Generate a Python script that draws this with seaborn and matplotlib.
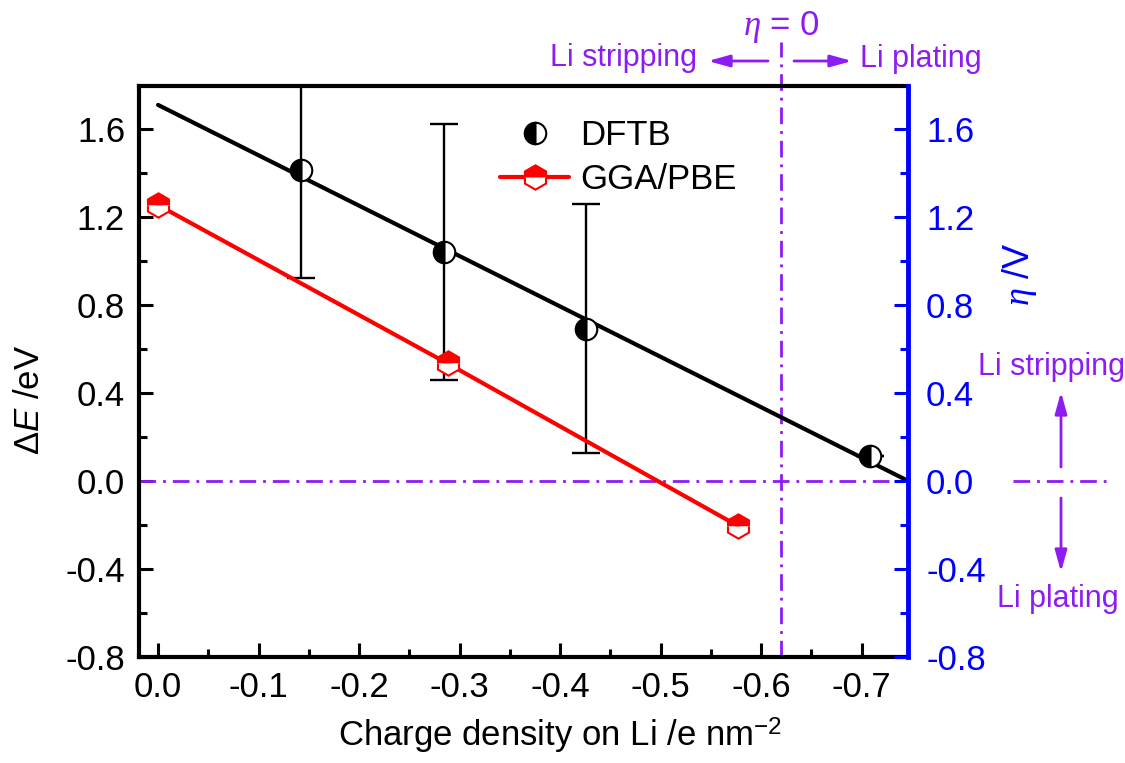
import matplotlib
matplotlib.use("Agg")
import matplotlib.pyplot as plt
from matplotlib.ticker import FixedLocator, MultipleLocator, FormatStrFormatter
import seaborn as sns

# ---------------- data ----------------
dftb_charge = [-0.142, -0.284, -0.426, -0.708]
dftb_dE = [1.41, 1.04, 0.69, 0.115]
dftb_err = [0.49, 0.58, 0.565, 0.0]
fit_charge = [0.0, -0.746]
fit_dE = [1.707, 0.0]
gga_charge = [0.0, -0.288, -0.577]
gga_dE = [1.252, 0.533, -0.205]
eta_zero_charge = -0.62
eta_zero_level = 0.0
series_names = ["DFTB", "GGA/PBE"]
x_ticks = [0.0, -0.1, -0.2, -0.3, -0.4, -0.5, -0.6, -0.7]
y_ticks = [-0.8, -0.4, 0.0, 0.4, 0.8, 1.2, 1.6]
x_limits = (0.019, -0.746)
y_limits = (-0.8, 1.793)

PURPLE = "#8C1CF2"
BLUE = "#0000FF"
RED = "#FF0000"
DASHDOT = (0, (6, 2.5, 1, 2.5))

sns.set_theme(style="white")
plt.rcParams["font.family"] = ["Liberation Sans", "DejaVu Sans"]
plt.rcParams["mathtext.fontset"] = "custom"
plt.rcParams["mathtext.rm"] = "Liberation Sans"
plt.rcParams["mathtext.it"] = "Liberation Serif:italic"
plt.rcParams["mathtext.sf"] = "Liberation Sans:italic"
plt.rcParams["axes.unicode_minus"] = False
plt.rcParams["text.color"] = "black"
plt.rcParams["axes.labelcolor"] = "black"

W, H = 1125, 763
L, R, T, B = 139, 908, 86, 657
fig = plt.figure(figsize=(W / 100, H / 100), dpi=100, facecolor="white")
ax = fig.add_axes([L / W, 1 - B / H, (R - L) / W, (B - T) / H])
ax.set_facecolor("white")


def px(x, y):
    return (x / W, 1 - y / H)


# reference lines (eta = 0)
ax.axhline(eta_zero_level, color=PURPLE, lw=2, ls=DASHDOT, zorder=1)
ax.axhline(eta_zero_level, xmin=(1013 - L) / (R - L), xmax=(1113 - L) / (R - L),
           color=PURPLE, lw=2, ls=DASHDOT, clip_on=False)
ax.axvline(eta_zero_charge, ymin=0, ymax=(B - 42) / (B - T), color=PURPLE, lw=2,
           ls=DASHDOT, clip_on=False, zorder=1)

# DFTB linear fit
sns.lineplot(x=fit_charge, y=fit_dE, color="black", linewidth=3, ax=ax, zorder=3)

# error bars
ax.errorbar(dftb_charge, dftb_dE, yerr=dftb_err, fmt="none", ecolor="black",
            elinewidth=1.7, capsize=10, capthick=1.7, zorder=2)

# DFTB markers (half-filled circles)
sns.lineplot(x=dftb_charge, y=dftb_dE, ax=ax, color="black", linestyle="",
             marker="o", markersize=15.5, fillstyle="left", markerfacecolor="black",
             markerfacecoloralt="white", markeredgecolor="black",
             markeredgewidth=1.5, label=series_names[0], zorder=6)

# GGA/PBE line with half-filled hexagons
sns.lineplot(x=gga_charge, y=gga_dE, ax=ax, color=RED, linewidth=3,
             marker="h", markersize=17.5, fillstyle="top", markerfacecolor=RED,
             markerfacecoloralt="white", markeredgecolor=RED,
             markeredgewidth=1.5, label=series_names[1], zorder=5)

ax.set_xlim(*x_limits)
ax.set_ylim(*y_limits)
ax.xaxis.set_major_locator(FixedLocator(x_ticks))
ax.xaxis.set_minor_locator(MultipleLocator(0.05))
ax.yaxis.set_major_locator(FixedLocator(y_ticks))
ax.yaxis.set_minor_locator(MultipleLocator(0.2))
ax.xaxis.set_major_formatter(FormatStrFormatter("%.1f"))
ax.yaxis.set_major_formatter(FormatStrFormatter("%.1f"))
ax.tick_params(which="both", direction="in", top=False, right=False,
               bottom=True, left=True, width=2.2, colors="black", labelsize=25)
ax.tick_params(which="major", length=10)
ax.tick_params(which="minor", length=6)
ax.tick_params(axis="x", pad=10)
ax.tick_params(axis="y", pad=10)
for side in ["left", "bottom", "top"]:
    ax.spines[side].set_color("black")
    ax.spines[side].set_linewidth(3)
ax.spines["right"].set_visible(False)
ax.grid(False)

ax.set_xlabel("Charge density on Li /e nm$^{-2}$", fontsize=25, color="black")
ax.xaxis.set_label_coords(0.547, -0.103)
ax.set_ylabel(r"Δ$\mathsf{E}$ /eV", fontsize=25, color="black")
ax.yaxis.set_label_coords(-0.121, 0.45)

# right (blue) axis
ax2 = ax.twinx()
ax2.set_ylim(*y_limits)
ax2.yaxis.set_major_locator(FixedLocator(y_ticks))
ax2.yaxis.set_minor_locator(MultipleLocator(0.2))
ax2.yaxis.set_major_formatter(FormatStrFormatter("%.1f"))
ax2.tick_params(axis="y", which="both", direction="in", colors=BLUE, width=2.2,
                labelsize=25, pad=13)
ax2.tick_params(axis="y", which="major", length=10)
ax2.tick_params(axis="y", which="minor", length=6)
for side in ["left", "bottom", "top"]:
    ax2.spines[side].set_visible(False)
ax2.spines["right"].set_color(BLUE)
ax2.spines["right"].set_linewidth(3.5)
ax2.grid(False)
ax2.set_ylabel(r"$\eta$ /V", fontsize=26, color=BLUE)
ax2.yaxis.set_label_coords(1.119, 0.671)

# legend
handles, labels = ax.get_legend_handles_labels()
ax.legend(handles, labels, loc="upper left", bbox_to_anchor=px(500, 119),
          bbox_transform=fig.transFigure, frameon=False, fontsize=25,
          handlelength=2.0, handletextpad=0.3, borderpad=0, borderaxespad=0,
          labelspacing=0.33, numpoints=1, labelcolor="black")

# annotations
fig.text(*px(781, 35), r"$\eta$ = 0", ha="center", va="baseline", color=PURPLE, fontsize=25)
fig.text(*px(697, 66), "Li stripping", ha="right", va="baseline", color=PURPLE, fontsize=22)
fig.text(*px(860, 67), "Li plating", ha="left", va="baseline", color=PURPLE, fontsize=22)
fig.text(*px(1051, 375), "Li stripping", ha="center", va="baseline", color=PURPLE, fontsize=22)
fig.text(*px(1058, 607), "Li plating", ha="center", va="baseline", color=PURPLE, fontsize=22)

arrow_kw = dict(arrowstyle="-|>,head_length=0.65,head_width=0.18", color=PURPLE,
                lw=2, shrinkA=0, shrinkB=0, mutation_scale=20)
for tail, tip in [((768, 61), (708, 61)), ((794, 61), (852, 61)),
                  ((1061, 467), (1061, 392)), ((1061, 498), (1061, 572))]:
    ax.annotate("", xy=px(*tip), xytext=px(*tail), xycoords="figure fraction",
                textcoords="figure fraction", arrowprops=arrow_kw,
                annotation_clip=False)

fig.savefig("out.png", dpi=100, facecolor="white")
